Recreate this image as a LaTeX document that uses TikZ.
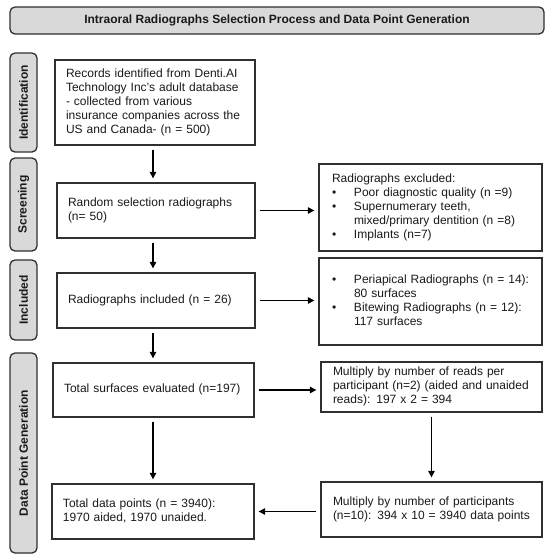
\documentclass[tikz,border=0pt]{standalone}
\usepackage{fontspec}
\setmainfont{Liberation Sans}
\usetikzlibrary{arrows.meta,calc}
\definecolor{boxc}{HTML}{303030}
\definecolor{sidefill}{HTML}{D9D9D9}
\definecolor{txt}{HTML}{1A1A1A}
\newcommand{\lns}[1]{\begin{tabular}{@{}l@{}}#1\end{tabular}}
\newcommand{\bul}{\makebox[22pt][l]{•}}
\newcommand{\bulind}{\hspace*{22pt}}
\begin{document}
\begin{tikzpicture}[x=1pt,y=-1pt,
  every node/.style={font=\fontsize{12}{14}\selectfont, text=txt},
  flowbox/.style={draw=boxc, line width=1.3pt, fill=white, inner ysep=0pt, inner xsep=11pt, align=left},
  sidebox/.style={draw=boxc, line width=1.3pt, fill=sidefill, rounded corners=5pt, inner sep=0pt,
    font=\fontsize{12}{14}\selectfont\bfseries, rotate=90, minimum height=27pt},
  arr/.style={draw=black, line width=1.1pt, -{Triangle[length=6.5pt,width=6.5pt]}, shorten <=4pt, shorten >=4pt}]
\useasboundingbox (0,0) rectangle (550,558);
\fill[white] (0,0) rectangle (550,558);

% title
\node[draw=boxc, line width=1.3pt, fill=sidefill, rounded corners=5pt, minimum width=534pt, minimum height=27pt,
  inner sep=0pt, font=\fontsize{12}{14}\selectfont\bfseries] (title) at (277,20.5)
  {Intraoral Radiographs Selection Process and Data Point Generation};

% side labels
\node[sidebox, minimum width=99pt] (sident) at (23.5,102.5) {Identification};
\node[sidebox, minimum width=93pt] (sscreen) at (23.5,204.5) {Screening};
\node[sidebox, minimum width=80pt] (sincl) at (23.5,300) {Included};
\node[sidebox, minimum width=200pt] (sdpg) at (23.5,453) {Data Point Generation};

% left column
\node[flowbox, text width=178pt, minimum height=85pt] (rec) at (155,102.5)
  {\lns{Records identified from Denti.AI\\Technology Inc's adult database\\- collected from various\\insurance companies across the\\US and Canada- (n = 500)}};
\node[flowbox, text width=176pt, minimum height=55pt] (rand) at (156,210.5)
  {\lns{Random selection radiographs\\(n= 50)}};
\node[flowbox, text width=176pt, minimum height=55pt] (inc) at (156,300.5)
  {\lns{Radiographs included (n = 26)}};
\node[flowbox, text width=179pt, minimum height=54pt] (ts) at (153.5,390)
  {\lns{Total surfaces evaluated (n=197)}};
\node[flowbox, text width=180pt, minimum height=55pt] (td) at (153,511.5)
  {\lns{Total data points (n = 3940):\\1970 aided, 1970 unaided.}};

% right column
\node[flowbox, inner xsep=13pt, text width=197pt, minimum height=87pt] (excl) at (430.5,207.5)
  {\lns{Radiographs excluded:\\\bul Poor diagnostic quality (n =9)\\\bul Supernumerary teeth,\\\bulind mixed/primary dentition (n =8)\\\bul Implants (n=7)}};
\node[flowbox, inner xsep=13pt, text width=197pt, minimum height=87pt] (peri) at (430.5,301.5)
  {\lns{\bul Periapical Radiographs (n = 14):\\\bulind 80 surfaces\\\bul Bitewing Radiographs (n = 12):\\\bulind 117 surfaces}};
\node[flowbox, inner xsep=12pt, text width=197pt, minimum height=50pt] (mr) at (431.5,387)
  {\lns{Multiply by number of reads per\\participant (n=2) (aided and unaided\\reads): 197 x 2 = 394}};
\node[flowbox, inner xsep=12pt, text width=197pt, minimum height=55pt] (mp) at (431.5,509.5)
  {\lns{Multiply by number of participants\\(n=10): 394 x 10 = 3940 data points}};

% connectors
\coordinate (colL) at (153,0);
\draw[arr] (rec.south -| colL) -- (rand.north -| colL);
\draw[arr] (rand.south -| colL) -- (inc.north -| colL);
\draw[arr] (inc.south -| colL) -- (ts.north -| colL);
\draw[arr] (ts.south -| colL) -- (td.north -| colL);
\draw[arr] (rand.east) -- (rand.east -| excl.west);
\draw[arr] (inc.east) -- (inc.east -| peri.west);
\draw[arr] (ts.east) -- (ts.east -| mr.west);
\draw[arr] (mr.south) -- (mp.north);
\draw[arr] (mp.west |- td.east) -- (td.east);
\end{tikzpicture}
\end{document}
